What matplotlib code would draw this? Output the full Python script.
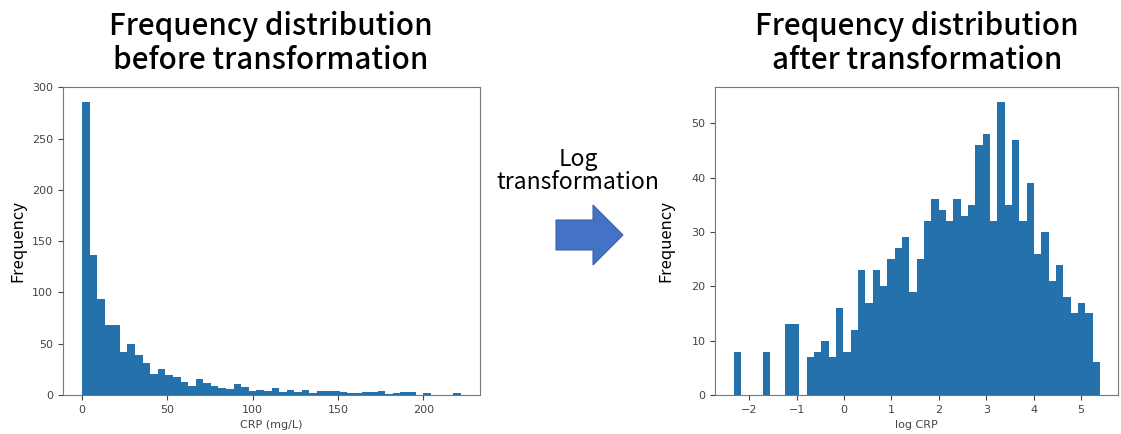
import numpy as np
import matplotlib
matplotlib.use("Agg")
import matplotlib.pyplot as plt
from matplotlib.patches import FancyArrow

# histogram counts (50 bins each)
crp_range = (0.1, 222.0)
crp_counts = [286, 136, 94, 68, 68, 42, 50, 39, 31, 20,
              25, 19, 18, 13, 9, 16, 12, 9, 7, 6,
              11, 8, 4, 5, 4, 7, 3, 5, 3, 5,
              2, 4, 4, 4, 3, 2, 2, 3, 3, 4,
              1, 2, 3, 3, 0, 2, 0, 0, 0, 2]

log_range = (-2.335, 5.40)
log_counts = [8, 0, 0, 0, 8, 0, 0, 13, 13, 0,
              7, 8, 10, 7, 16, 8, 12, 23, 17, 23,
              20, 25, 27, 29, 19, 25, 32, 36, 34, 32,
              36, 33, 35, 46, 48, 32, 54, 35, 47, 32,
              39, 26, 30, 21, 24, 18, 15, 17, 15, 6]

left_title = "Frequency distribution\nbefore transformation"
right_title = "Frequency distribution\nafter transformation"
middle_text = "Log\ntransformation"

BAR_COLOR = "#2471ab"
TITLE_FONT = ["Noto Sans CJK JP", "DejaVu Sans"]


def draw_hist(ax, counts, rng, xlabel):
    edges = np.linspace(rng[0], rng[1], len(counts) + 1)
    ax.hist(edges[:-1], bins=edges, weights=counts, color=BAR_COLOR)
    ax.set_xlabel(xlabel, fontsize=8, color="#444444")
    ax.set_ylabel("Frequency", fontsize=12, family=TITLE_FONT)
    ax.tick_params(labelsize=8, colors="#444444", length=3.5)
    for s in ax.spines.values():
        s.set_color("#777777")


def main():
    fig = plt.figure(figsize=(11.21, 4.34), dpi=100)

    ax1 = fig.add_axes([0.0562, 0.0899, 0.372, 0.7097])
    draw_hist(ax1, crp_counts, crp_range, "CRP (mg/L)")
    ax1.yaxis.labelpad = 4

    ax2 = fig.add_axes([0.638, 0.0899, 0.3595, 0.7097])
    draw_hist(ax2, log_counts, log_range, "log CRP")
    ax2.yaxis.labelpad = 12

    fig.text(0.2415, 0.975, left_title, ha="center", va="top",
             fontsize=21.3, weight="medium", family=TITLE_FONT, linespacing=1.12)
    fig.text(0.818, 0.975, right_title, ha="center", va="top",
             fontsize=21.3, weight="medium", family=TITLE_FONT, linespacing=1.12)
    fig.text(0.5156, 0.66, middle_text, ha="center", va="top",
             fontsize=16.5, family=TITLE_FONT, linespacing=1.05)

    # block arrow between the panels
    arrow = FancyArrow(556 / 1121, 1 - 235 / 434, 37 / 1121, 0,
                       width=30 / 434, head_width=60 / 434,
                       head_length=30 / 1121, length_includes_head=False,
                       transform=fig.transFigure, color="#4472c4",
                       ec="#3a62a8", lw=0.8)
    fig.patches.append(arrow)

    fig.savefig("out.png", dpi=100)
    plt.close(fig)


if __name__ == "__main__":
    main()
